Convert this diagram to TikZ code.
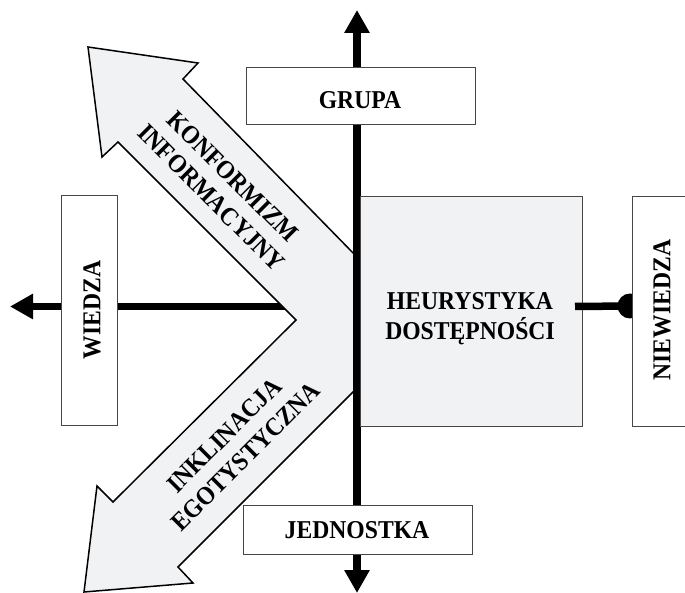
\documentclass[tikz,border=0pt]{standalone}
\usepackage{fontspec}
\setmainfont{Liberation Serif}
\newfontfamily\labfont[FakeStretch=0.92]{Liberation Serif}
\usetikzlibrary{arrows.meta}
\definecolor{pale}{RGB}{241,242,244}
\definecolor{boxline}{RGB}{70,70,70}
\begin{document}
\begin{tikzpicture}[x=1pt,y=-1pt,
  lbl/.style={font=\labfont\fontsize{25.7}{30}\selectfont\bfseries, align=center, inner sep=0pt},
  wbox/.style={draw=boxline, line width=1pt, fill=white, inner sep=0pt},
  gbox/.style={draw=boxline, line width=1pt, fill=pale, inner sep=0pt},
  axis/.style={line width=7.5pt, black},
  tip/.style={-{Triangle[length=23pt,width=24pt]}}]
\useasboundingbox (0,0) rectangle (685,593);
\clip (0,0) rectangle (685,593);
% coordinates
\coordinate (top) at (357,10);
\coordinate (bot) at (357,593);
\coordinate (left) at (10,306.5);
\coordinate (hub) at (300,306.5);
\coordinate (rstart) at (575,306.5);
\coordinate (dot) at (630,306);
% left horizontal axis
\draw[axis, tip] (hub) -- (left);
% V shaped double arrow
\draw[line width=1.5pt, fill=pale, line join=miter]
  (357,257) -- (183,79) -- (198,63) -- (88,47) -- (102,157) -- (118,142)
  -- (296,320) -- (113,502) -- (97,486) -- (84,592) -- (193,583) -- (178,567)
  -- (357,388) -- cycle;
% vertical axis
\draw[axis, tip] (357,300) -- (top);
\draw[axis, tip] (357,300) -- (bot);
% boxes
\node[wbox, minimum width=229pt, minimum height=57pt] (grupa) at (360.5,96.5) {};
\node[wbox, minimum width=229pt, minimum height=49pt] (jedn) at (357.5,529.5) {};
\node[gbox, minimum width=221.5pt, minimum height=229pt] (heur) at (471.25,311.5) {};
\node[wbox, minimum width=56pt, minimum height=229pt] (wiedza) at (89,310.5) {};
% right connector with dot
\draw[axis] (rstart) -- (dot);
\fill (dot) circle (12.5);
\node[wbox, minimum width=80pt, minimum height=229pt] (niew) at (672,311.5) {};
% texts
\node[lbl] (tgrupa) at (360,100.5) {GRUPA};
\node[lbl] (tjedn) at (357,530.5) {JEDNOSTKA};
\node[lbl] (theur) at (470,319) {HEURYSTYKA\\DOSTĘPNOŚCI};
\node[lbl, rotate=90] (twiedza) at (92,310) {WIEDZA};
\node[lbl, rotate=90] (tniew) at (662,310) {NIEWIEDZA};
\node[lbl, rotate=-45] (tkonf) at (222,187) {KONFORMIZM\\INFORMACYJNY};
\node[lbl, rotate=45] (tinkl) at (235,446) {INKLINACJA\\EGOTYSTYCZNA};
\end{tikzpicture}
\end{document}
